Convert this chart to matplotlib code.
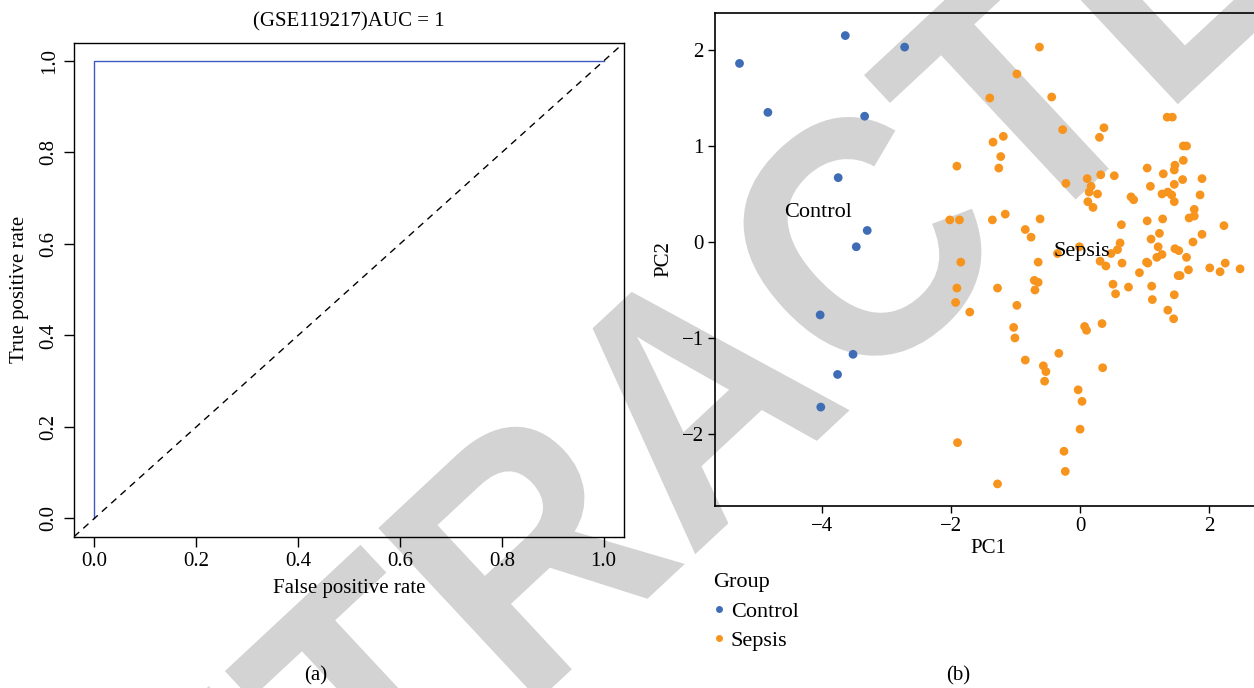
import matplotlib
matplotlib.use("Agg")
import matplotlib.pyplot as plt
import matplotlib.transforms as mtransforms
from matplotlib.lines import Line2D
from matplotlib.patches import PathPatch
from matplotlib.textpath import TextPath
from matplotlib.font_manager import FontProperties

plt.rcParams["font.family"] = ["Liberation Serif", "DejaVu Serif"]
plt.rcParams["axes.unicode_minus"] = True

# ROC curve (a)
fpr = [0.0, 0.0, 1.0]
tpr = [0.0, 1.0, 1.0]
roc_ticks = [0.0, 0.2, 0.4, 0.6, 0.8, 1.0]
roc_title = "(GSE119217)AUC = 1"

# PCA (b)
control_pc1 = [-5.28, -3.64, -2.72, -4.84, -3.34, -3.75, -3.30, -3.47, -4.03, -3.52, -3.76, -4.02]
control_pc2 = [1.86, 2.15, 2.03, 1.35, 1.31, 0.67, 0.12, -0.05, -0.76, -1.17, -1.38, -1.72]

sepsis_pc1 = [
    -0.63, -0.98, -1.40, -0.44, -0.27, 0.37, 0.30, -1.35, -1.19, -1.23,
    -1.26, -1.91, -0.22, 1.35, 1.43, 1.60, 1.65, 1.60, 1.47, 1.46,
    1.04, 1.29, 1.59, 1.89, 0.11, 0.32, 0.53, 0.17, 0.14, 0.27,
    0.12, 0.20, 1.09, 1.46, 0.79, 0.83, 1.27, 1.36, 1.42, 1.46,
    1.86, 1.77, 1.77, 1.69, 1.04, 1.28, 0.64, 2.23, 1.89, 1.75,
    1.23, 1.10, 1.21, 1.47, 1.53, -2.02, -1.87, -1.36, -1.16, -0.62,
    -0.85, -0.76, 0.62, 0.58, -0.01, 1.27, 1.19, 1.65, -1.85, -1.91,
    -1.93, -1.71, -1.28, -0.65, -0.71, -0.65, -0.70, -0.98, -1.03, -1.01,
    -0.85, -0.57, -0.53, -0.55, -0.33, 0.07, 0.10, 0.34, 0.35, -0.03,
    0.03, 0.00, -0.25, -0.23, -1.90, -1.28, -0.35, 0.31, 0.40, 0.48,
    0.65, 0.51, 0.55, 0.75, 0.92, 1.03, 1.05, 1.11, 1.12, 1.68,
    1.52, 1.55, 1.46, 1.36, 1.45, 2.01, 2.17, 2.25, 2.48,
]
sepsis_pc2 = [
    2.03, 1.75, 1.50, 1.51, 1.17, 1.19, 1.09, 1.04, 1.10, 0.89,
    0.77, 0.79, 0.61, 1.30, 1.30, 1.00, 1.00, 0.85, 0.80, 0.75,
    0.77, 0.71, 0.65, 0.66, 0.66, 0.70, 0.69, 0.58, 0.52, 0.50,
    0.42, 0.36, 0.58, 0.60, 0.47, 0.44, 0.50, 0.52, 0.49, 0.42,
    0.49, 0.34, 0.27, 0.25, 0.22, 0.24, 0.18, 0.17, 0.08, 0.00,
    0.09, 0.03, -0.05, -0.07, -0.09, 0.23, 0.23, 0.23, 0.29, 0.24,
    0.13, 0.05, -0.01, -0.08, -0.05, -0.13, -0.16, -0.16, -0.21, -0.48,
    -0.63, -0.73, -0.48, -0.21, -0.40, -0.42, -0.50, -0.66, -0.89, -1.00,
    -1.23, -1.29, -1.35, -1.45, -1.16, -0.88, -0.92, -0.85, -1.31, -1.54,
    -1.66, -1.95, -2.18, -2.39, -2.09, -2.52, -0.12, -0.20, -0.25, -0.12,
    -0.22, -0.44, -0.54, -0.47, -0.32, -0.21, -0.22, -0.46, -0.60, -0.29,
    -0.35, -0.35, -0.55, -0.71, -0.80, -0.27, -0.31, -0.22, -0.28,
]
pc1_ticks = [-4, -2, 0, 2]
pc2_ticks = [-2, -1, 0, 1, 2]
group_names = ["Control", "Sepsis"]
group_label_pos = [(-4.06, 0.31), (0.03, -0.10)]

BLUE = "#3e6db6"
ORANGE = "#f7941e"
ROC_BLUE = "#3f58c4"
FS = 15

W, H = 1254, 688
fig = plt.figure(figsize=(W / 100, H / 100), dpi=100)

# watermark "RETRACTED", drawn as a text path behind everything
wm_prop = FontProperties(family="Liberation Sans", weight="bold")
wm_path = TextPath((0, 0), "RETRACTED", size=1, prop=wm_prop)
t_ext = TextPath((0, 0), "T", size=1, prop=wm_prop).get_extents()
anchor_x = TextPath((0, 0), "RETRACT", size=1, prop=wm_prop).get_extents().x1 - t_ext.width / 2
em = 342
wm_tr = (mtransforms.Affine2D()
         .translate(-anchor_x, -t_ext.y1 / 2)
         .scale(0.92 * em, em)
         .rotate_deg(43)
         .translate(1012, H - 98))
fig.add_artist(PathPatch(wm_path, transform=wm_tr, facecolor="#d3d3d3",
                         edgecolor="none", zorder=-5))

# ---- (a) ROC ----
ax1 = fig.add_axes([74 / W, 1 - 536.7 / H, 550 / W, 494 / H])
ax1.patch.set_alpha(0)
ax1.plot(fpr, tpr, color=ROC_BLUE, lw=1.0)
ax1.axline((0, 0), slope=1, color="black", lw=1.0, ls=(0, (5, 4)))
ax1.set_xlim(-0.04, 1.04)
ax1.set_ylim(-0.04, 1.04)
ax1.set_xticks(roc_ticks)
ax1.set_yticks(roc_ticks)
ax1.set_xticklabels([f"{t:.1f}" for t in roc_ticks])
ax1.set_yticklabels([f"{t:.1f}" for t in roc_ticks], rotation=90, va="center")
ax1.tick_params(length=7, width=1, labelsize=FS, pad=4)
ax1.set_xlabel("False positive rate", fontsize=FS, labelpad=6)
ax1.set_ylabel("True positive rate", fontsize=FS, labelpad=8)
ax1.set_title(roc_title, fontsize=FS, pad=12)
for s in ax1.spines.values():
    s.set_linewidth(1.0)

# ---- (b) PCA ----
ax2 = fig.add_axes([715 / W, 1 - 505.7 / H, 547 / W, 492.4 / H])
ax2.patch.set_alpha(0)
ax2.scatter(control_pc1, control_pc2, s=40, color=BLUE, edgecolors="none", zorder=3)
ax2.scatter(sepsis_pc1, sepsis_pc2, s=40, color=ORANGE, edgecolors="none", zorder=3)
for name, (x, y) in zip(group_names, group_label_pos):
    ax2.text(x, y, name, fontsize=16, ha="center", va="center", zorder=4)
ax2.set_xlim(-5.66, 2.82)
ax2.set_ylim(-2.747, 2.382)
ax2.set_xticks(pc1_ticks)
ax2.set_yticks(pc2_ticks)
ax2.tick_params(length=5, width=1, labelsize=FS, pad=3)
ax2.set_xlabel("PC1", fontsize=FS, labelpad=2)
ax2.set_ylabel("PC2", fontsize=FS, labelpad=6)
for s in ax2.spines.values():
    s.set_linewidth(1.2)

handles = [Line2D([], [], ls="none", marker="o", markersize=5, color=c,
                  markeredgecolor="none") for c in (BLUE, ORANGE)]
leg = fig.legend(handles, group_names, title="Group", loc="upper left",
                 bbox_to_anchor=(702 / W, 1 - 562 / H), frameon=False,
                 fontsize=16, title_fontsize=16, alignment="left",
                 handlelength=0.5, handletextpad=0.3, borderpad=0,
                 labelspacing=0.4)

fig.text(316 / W, 1 - 676 / H, "(a)", fontsize=FS, ha="center", va="center")
fig.text(958 / W, 1 - 676 / H, "(b)", fontsize=FS, ha="center", va="center")

fig.savefig("out.png", dpi=100)
